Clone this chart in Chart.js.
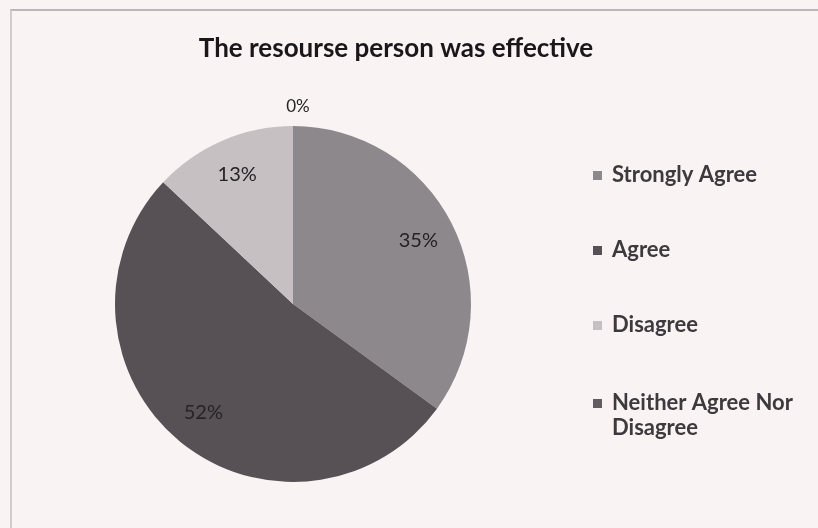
<!DOCTYPE html>
<html>
<head>
<meta charset="utf-8">
<script src="https://cdn.jsdelivr.net/npm/chart.js@4/dist/chart.umd.min.js"></script>
<style>
  html, body { margin: 0; padding: 0; background: #f9f3f4; }
  #wrap { position: relative; width: 818px; height: 528px; }
  #frame { position: absolute; left: 10px; top: 9px; right: -2px; bottom: -2px;
           border-left: 2px solid #d3cbcf; border-top: 2px solid #bdb5b9; }
</style>
</head>
<body>
<div id="wrap">
  <div id="frame"></div>
  <canvas id="pie" width="818" height="528"></canvas>
</div>
<script>
const title = "The resourse person was effective";
const labels = ["Strongly Agree", "Agree", "Disagree", "Neither Agree Nor Disagree"];
const legendLines = [["Strongly Agree"], ["Agree"], ["Disagree"], ["Neither Agree Nor", "Disagree"]];
const values = [35, 52, 13, 0];
const colors = ["#8d888c", "#575055", "#c6c0c3", "#625c60"];

// percentage labels inside the slices, zero slices just outside the rim
const sliceLabels = {
  id: "sliceLabels",
  afterDatasetsDraw(chart) {
    const ctx = chart.ctx;
    const arcs = chart.getDatasetMeta(0).data;
    ctx.save();
    ctx.fillStyle = "#262326";
    ctx.textAlign = "center";
    ctx.textBaseline = "middle";
    arcs.forEach((arc, i) => {
      const { x, y, startAngle, endAngle, outerRadius } = arc.getProps(["x", "y", "startAngle", "endAngle", "outerRadius"]);
      const mid = (startAngle + endAngle) / 2;
      const zero = values[i] === 0;
      const r = zero ? outerRadius + 19 : outerRadius * 0.79;
      ctx.font = zero ? "17px Lato, 'Open Sans', sans-serif" : "20px Lato, 'Open Sans', sans-serif";
      ctx.fillText(values[i] + "%", x + Math.cos(mid) * r + (zero ? 5 : 0), y + Math.sin(mid) * r);
    });
    ctx.restore();
  }
};

// title and the legend on the right, laid out like the original sheet
const sheetText = {
  id: "sheetText",
  afterDraw(chart) {
    const ctx = chart.ctx;
    ctx.save();
    ctx.fillStyle = "#1a171a";
    ctx.font = "bold 26px Lato, 'Open Sans', sans-serif";
    ctx.textAlign = "center";
    ctx.textBaseline = "middle";
    ctx.fillText(title, 396, 49);

    const rows = [175, 250, 325, 403];
    ctx.font = "bold 22px Lato, 'Open Sans', sans-serif";
    ctx.textAlign = "left";
    labels.forEach((lab, i) => {
      ctx.fillStyle = colors[i];
      ctx.fillRect(593, rows[i] - 4, 9, 9);
      ctx.fillStyle = "#3d393d";
      legendLines[i].forEach((line, j) => ctx.fillText(line, 612, rows[i] + j * 25));
    });
    ctx.restore();
  }
};

new Chart(document.getElementById("pie"), {
  type: "pie",
  data: {
    labels,
    datasets: [{
      data: values,
      backgroundColor: colors,
      borderWidth: 0,
    }],
  },
  options: {
    responsive: false,
    animation: false,
    layout: { padding: { left: 115, right: 347, top: 126, bottom: 46 } },
    plugins: {
      legend: { display: false },
      title: { display: false },
      tooltip: { enabled: false },
    },
  },
  plugins: [sliceLabels, sheetText],
});
</script>
</body>
</html>
